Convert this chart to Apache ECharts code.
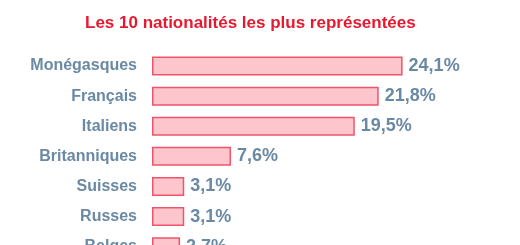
<!DOCTYPE html>
<html>
<head>
<meta charset="utf-8">
<script src="https://cdn.jsdelivr.net/npm/echarts@6/dist/echarts.min.js"></script>
<style>
  html, body { margin: 0; padding: 0; background: #fff; }
  #chart { width: 520px; height: 245px; }
</style>
</head>
<body>
<div id="chart"></div>
<script>
// Données (les lignes visibles de l'image)
const nationalites = ['Monégasques', 'Français', 'Italiens', 'Britanniques', 'Suisses', 'Russes', 'Belges'];
const pourcentages = [24.1, 21.8, 19.5, 7.6, 3.1, 3.1, 2.7];

const chart = echarts.init(document.getElementById('chart'));

chart.setOption({
    animation: false,
    title: {
        text: 'Les 10 nationalités les plus représentées',
        left: 85,
        top: 15,
        padding: 0,
        textStyle: {
            color: '#e8192f',
            fontFamily: 'Liberation Sans',
            fontWeight: 'bold',
            fontSize: 17
        }
    },
    grid: { left: 152, top: 51, width: 250.6, height: 210.7, outerBoundsMode: 'none', containLabel: false },
    xAxis: {
        type: 'value',
        min: 0,
        max: 24.1,
        show: false
    },
    yAxis: {
        type: 'category',
        inverse: true,
        data: nationalites,
        axisLine: { show: false },
        axisTick: { show: false },
        axisLabel: {
            margin: 15,
            color: '#6a89a4',
            fontFamily: 'Liberation Sans',
            fontWeight: 'bold',
            fontSize: 16
        }
    },
    series: [{
        type: 'bar',
        data: pourcentages,
        barWidth: 19,
        itemStyle: {
            color: '#fdc6cc',
            borderColor: '#f05468',
            borderWidth: 1.5
        },
        label: {
            show: true,
            position: 'right',
            distance: 6,
            color: '#6a89a4',
            fontFamily: 'Liberation Sans',
            fontWeight: 'bold',
            fontSize: 18,
            formatter: p => String(p.value).replace('.', ',') + '%'
        }
    }]
});
</script>
</body>
</html>
